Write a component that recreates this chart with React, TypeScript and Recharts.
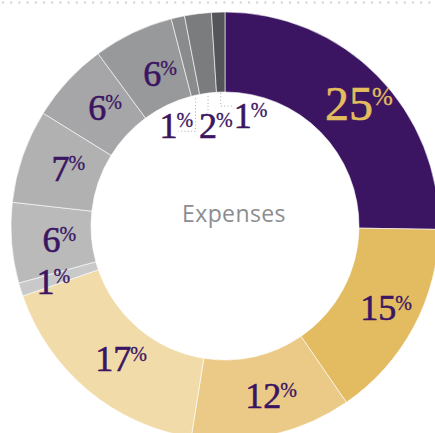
import React from 'react';
import { PieChart, Pie, Cell } from 'recharts';

// ---- data ----
const categories = [
  'Item 1', 'Item 2', 'Item 3', 'Item 4', 'Item 5', 'Item 6',
  'Item 7', 'Item 8', 'Item 9', 'Item 10', 'Item 11', 'Item 12',
];
const values = [25, 15, 12, 17, 1, 6, 7, 6, 6, 1, 2, 1];
const labelTexts = ['25', '15', '12', '17', '1', '6', '7', '6', '6', '1', '2', '1'];
const centerTitle = 'Expenses';

// ---- styles ----
const colors = [
  '#3b1562', '#e3bb60', '#eaca86', '#f1dba9', '#c9c9ca', '#bababb',
  '#b1b1b2', '#a6a6a8', '#98999b', '#8a8b8d', '#7b7c7e', '#54555a',
];
const PURPLE = '#3b1562';
const GOLD = '#e4bd5e';
const SERIF = '"Liberation Serif", "Times New Roman", serif';

// label radius tweaks (layout only)
const labelRadius: Record<number, number> = { 4: 188, 8: 169 };
// inner leader layouts for the tiny slices (layout only)
const innerLeaders: Record<number, { start: number; drop: number; hx: number; ldx: number; ldy: number }> = {
  9: { start: 3, drop: 36, hx: -17, ldx: -27, ldy: 43 },
  10: { start: 3, drop: 20, hx: 0, ldx: 0, ldy: 45 },
  11: { start: 1, drop: 14, hx: 12, ldx: 22, ldy: 36 },
};

const data = categories.map((name, i) => ({ name, value: values[i] }));
const RAD = Math.PI / 180;

function PctLabel({ x, y, text, big, color }: { x: number; y: number; text: string; big: boolean; color: string }) {
  const fs = big ? 48 : 36;
  const ps = big ? 25 : 20;
  const digitH = fs * 0.676;
  const pctH = ps * 0.676;
  const px = x + text.length * fs * 0.25 - 1;
  const py = y - digitH + pctH;
  return (
    <g>
      <text x={x} y={y} textAnchor="middle" fontFamily={SERIF} fontSize={fs} fill={color} stroke={color} strokeWidth={0.6}>
        {text}
      </text>
      <text x={px} y={py} textAnchor="start" fontFamily={SERIF} fontSize={ps} fill={color} stroke={color} strokeWidth={0.3}>
        %
      </text>
    </g>
  );
}

function renderLabel(props: any) {
  const { cx, cy, midAngle, innerRadius, index } = props;
  const text = labelTexts[index];
  const big = index === 0;
  const color = big ? GOLD : PURPLE;
  const fs = big ? 48 : 36;
  const digitH = fs * 0.676;
  const c = Math.cos(-midAngle * RAD);
  const s = Math.sin(-midAngle * RAD);
  const lead = innerLeaders[index];
  if (lead) {
    const ax = cx + innerRadius * c;
    const ay = cy + innerRadius * s;
    const pts = [
      [ax, ay + lead.start],
      [ax, ay + lead.drop],
      [ax + lead.hx, ay + lead.drop],
    ];
    return (
      <g key={`lbl-${index}`}>
        <polyline
          points={pts.map((p) => p.join(',')).join(' ')}
          fill="none"
          stroke="#a9a9ab"
          strokeWidth={1}
          strokeDasharray="1 2.3"
        />
        <PctLabel x={ax + lead.ldx} y={ay + lead.ldy} text={text} big={false} color={color} />
      </g>
    );
  }
  const r = labelRadius[index] ?? 174;
  const x = cx + r * c;
  const y = cy + r * s + digitH / 2;
  return (
    <g key={`lbl-${index}`}>
      <PctLabel x={x} y={y} text={text} big={big} color={color} />
    </g>
  );
}

export default function App() {
  return (
    <div style={{ position: 'absolute', left: 0, top: 0, width: 435, height: 433, background: '#fff' }}>
      <PieChart width={435} height={433} margin={{ top: 0, right: 0, bottom: 0, left: 0 }}>
        <line
          x1={3}
          y1={2.5}
          x2={435}
          y2={2.5}
          stroke="#d6d6d6"
          strokeWidth={2.4}
          strokeLinecap="round"
          strokeDasharray="0 8.2"
        />
        <Pie
          data={data}
          dataKey="value"
          nameKey="name"
          cx={225}
          cy={226}
          innerRadius={134}
          outerRadius={214}
          startAngle={90}
          endAngle={-270}
          stroke="#ffffff"
          strokeWidth={0.6}
          label={renderLabel}
          labelLine={false}
          isAnimationActive={false}
        >
          {data.map((d, i) => (
            <Cell key={d.name} fill={colors[i]} />
          ))}
        </Pie>
        <text
          x={234}
          y={222}
          textAnchor="middle"
          fontFamily='"Open Sans", "Noto Sans", sans-serif'
          fontSize={23}
          letterSpacing={0.4}
          fill="#8d8d8f"
        >
          {centerTitle}
        </text>
      </PieChart>
    </div>
  );
}
